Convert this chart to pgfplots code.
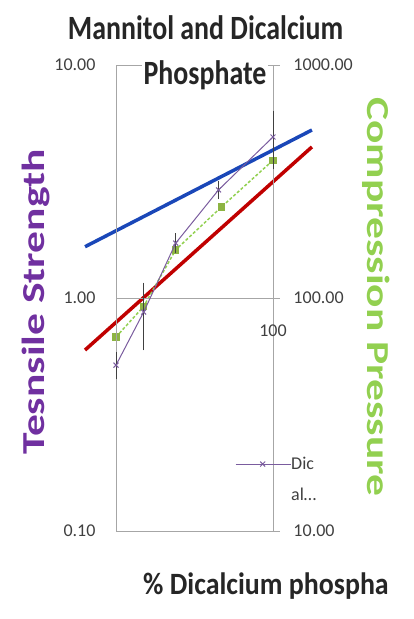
\documentclass[border=0pt]{standalone}
\usepackage{fontspec}
\setmainfont{Carlito}
\usepackage{graphicx}
\usepackage{pgfplots}
\pgfplotsset{compat=1.18}
\definecolor{ts}{HTML}{7030A0}
\definecolor{cp}{HTML}{92D050}
\definecolor{pl}{HTML}{7A5C9E}
\definecolor{gm}{HTML}{8DB443}
\definecolor{bl}{HTML}{1A47B8}
\definecolor{rd}{HTML}{C00000}
\definecolor{ax}{HTML}{A6A6A6}
\definecolor{tk}{HTML}{404040}
\begin{document}
\begin{tikzpicture}[x=1pt,y=1pt]
\path[use as bounding box] (0,0) rectangle (413,619);
% secondary axis (right): compression pressure + trendlines
\begin{axis}[
  at={(116pt,88pt)}, anchor=south west,
  scale only axis, width=157pt, height=466pt,
  xmode=log, ymode=log, xmin=10, xmax=100, ymin=10, ymax=1000,
  clip=false,
  axis x line=none, axis y line*=right,
  xminorticks=false, yminorticks=false,
  axis line style={ax, line width=0.8pt, -},
  ytick={10,100,1000}, yticklabels={10.00,100.00,1000.00},
  tick align=outside, major tick length=7pt, tick style={ax, line width=0.8pt},
  yticklabel style={font=\fontsize{18}{20}\selectfont, text=tk, anchor=west, xshift=10pt},
]
\addplot[rd, line width=3.5pt] coordinates {(6.35,59.8) (177,445)};
\addplot[bl, line width=3.5pt] coordinates {(6.35,166) (177,526)};
\addplot[cp, line width=1.5pt, dash pattern=on 3pt off 2pt, mark=square*, mark size=3pt,
  mark options={solid, fill=gm, draw=gm}]
  coordinates {(10,68) (15,92) (24,161) (47,246) (100,390)};
\end{axis}
% primary axis (left): tensile strength
\begin{axis}[
  at={(116pt,88pt)}, anchor=south west,
  scale only axis, width=157pt, height=466pt,
  xmode=log, ymode=log, xmin=10, xmax=100, ymin=0.1, ymax=10,
  clip=false,
  axis line style={ax, line width=0.8pt, -},
  xtick=\empty, xminorticks=false, yminorticks=false,
  ytick={0.1,1,10}, yticklabels={0.10,1.00,10.00},
  major tick length=0pt,
  ymajorgrids, grid style={ax, line width=0.8pt},
  /pgf/number format/assume math mode=true,
  yticklabel style={font=\fontsize{18}{20}\selectfont, text=tk, anchor=east, xshift=-17pt},
  legend style={at={(axis description cs:0.758,0.159)}, anchor=north west, draw=none, fill=none,
    font=\fontsize{18}{20}\selectfont, text=tk, inner sep=0pt, row sep=17pt,
    nodes={inner sep=0pt}, column sep=0pt},
  legend cell align=left,
  legend image code/.code={\draw[mark repeat=2,mark phase=2,#1] plot coordinates {(0pt,0pt) (27pt,0pt) (55pt,0pt)};},
]
\addplot[pl, line width=1pt, mark=x, mark size=3.5pt, mark options={pl, line width=1pt},
  error bars/.cd, y dir=both, y explicit,
  error bar style={black!75, line width=1pt},
  error mark options={black!75, mark size=4pt, line width=1pt}]
  coordinates {(10,0.515) +- (0,0.05) (15,0.87) +- (0,0.25) (24,1.72) +- (0,0.1) (45,2.91) +- (0,0.15) (100,4.91) +- (0,1.2)};
\addlegendentry{Dic}
\addlegendimage{empty legend}
\addlegendentry{al…}
\node[anchor=north, inner sep=0pt, font=\fontsize{18}{20}\selectfont, text=tk, yshift=-27pt] at (axis cs:100,1) {100};
\end{axis}
\node[anchor=base, inner sep=0pt, font=\fontsize{34}{36}\selectfont\bfseries, text=black!85] at (205.5,579) {\scalebox{0.82}[1]{Mannitol and Dicalcium}};
\node[anchor=base, inner sep=2pt, fill=white, font=\fontsize{34}{36}\selectfont\bfseries, text=black!85] at (205,534) {\scalebox{0.82}[1]{Phosphate}};
\node[anchor=base west, inner sep=0pt, font=\fontsize{31}{33}\selectfont\bfseries, text=black!85] at (143,24) {\scalebox{0.9}[1]{\% Dicalcium phospha}};
\node[rotate=90, anchor=base, inner sep=0pt, text=ts, font=\fontsize{32}{34}\selectfont\bfseries] at (44,317) {\scalebox{1.36}[1]{Tesnsile Strength}};
\node[rotate=-90, anchor=base, inner sep=0pt, text=cp, font=\fontsize{32}{34}\selectfont\bfseries] at (367,322) {\scalebox{1.36}[1]{Compression Pressure}};
\end{tikzpicture}
\end{document}
